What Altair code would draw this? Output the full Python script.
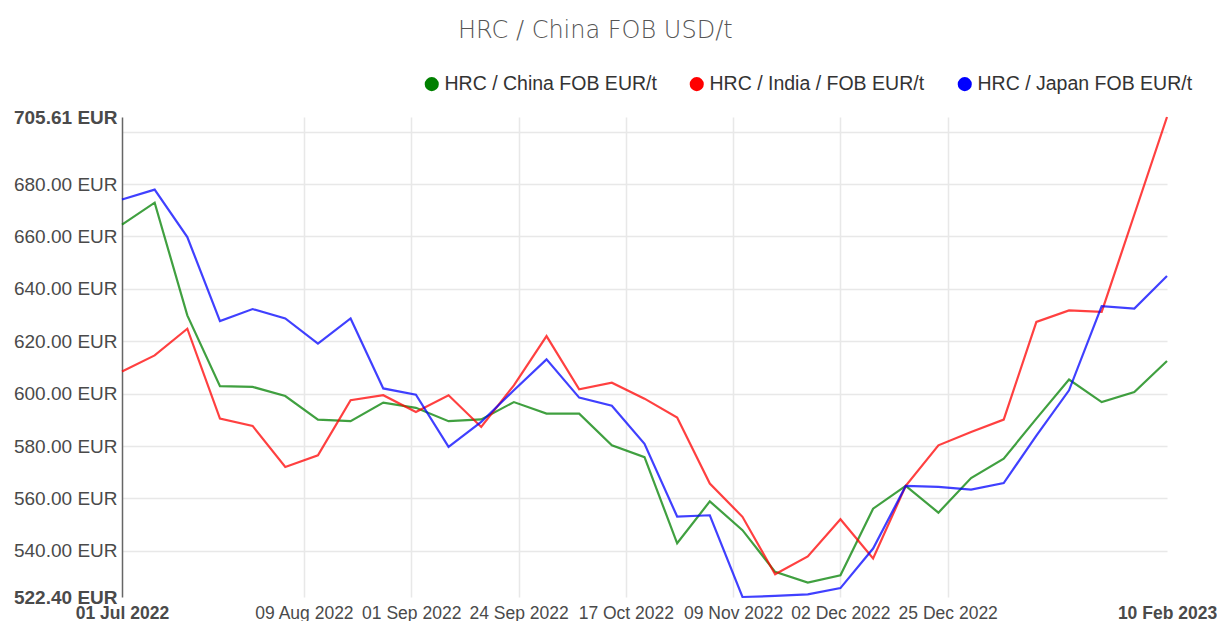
import altair as alt
import pandas as pd
from datetime import datetime, timezone

dates = pd.date_range("2022-07-01", "2023-02-10", freq="7D").strftime("%Y-%m-%d").tolist()

series_names = ["HRC / China FOB EUR/t", "HRC / India / FOB EUR/t", "HRC / Japan FOB EUR/t"]
series_colors = ["#008000", "#ff0000", "#0000ff"]

china = [664.5, 672.9, 629.9, 602.9, 602.6, 599.1, 590.1, 589.5, 596.6, 594.6,
         589.5, 590.2, 596.8, 592.4, 592.4, 580.3, 575.8, 542.9, 558.9, 547.9,
         532.0, 527.9, 530.7, 556.1, 564.8, 554.6, 567.8, 575.2, 590.5, 605.4,
         596.8, 600.6, 612.5]
india = [608.5, 614.6, 624.8, 590.5, 587.7, 572.0, 576.5, 597.5, 599.4, 593.0,
         599.4, 587.3, 603.2, 622.0, 601.7, 604.2, 598.1, 590.9, 565.7, 553.0,
         531.1, 537.9, 552.1, 537.1, 564.8, 580.3, 585.4, 590.1, 627.4, 631.8,
         631.2, 668.4, 705.61]
japan = [674.1, 677.9, 659.8, 627.7, 632.3, 628.7, 619.1, 628.7, 602.0, 599.6,
         579.7, 589.2, 601.3, 613.1, 598.5, 595.4, 580.9, 553.1, 553.6, 522.4,
         522.8, 523.4, 525.8, 540.9, 564.8, 564.4, 563.4, 565.9, 584.0, 601.3,
         633.4, 632.5, 644.9]

x_tick_dates = ["2022-07-01", "2022-08-09", "2022-09-01", "2022-09-24", "2022-10-17",
                "2022-11-09", "2022-12-02", "2022-12-25", "2023-02-10"]
y_ticks = [522.40, 540, 560, 580, 600, 620, 640, 660, 680, 700, 705.61]
y_min, y_max = 522.40, 705.61

rows = []
for name, vals in zip(series_names, [china, india, japan]):
    for d, v in zip(dates, vals):
        rows.append({"date": d, "value": v, "series": name})
df = pd.DataFrame(rows)

def to_ms(s):
    return int(datetime.strptime(s, "%Y-%m-%d").replace(tzinfo=timezone.utc).timestamp() * 1000)

x_vals = [to_ms(s) for s in x_tick_dates]
last_ms = x_vals[-1]
first_ms = x_vals[0]
edge_test = f"datum.value <= {first_ms} || datum.value >= {last_ms}"

# filled-looking disc built from concentric rings (legend symbols of line marks are stroked)
disc_path = " ".join(
    f"M {-r} 0 A {r} {r} 0 1 0 {r} 0 A {r} {r} 0 1 0 {-r} 0" for r in [0.9, 0.7, 0.5, 0.3, 0.1]
)

x_axis = alt.Axis(
    values=x_vals,
    labelExpr="utcFormat(datum.value, '%d %b %Y')",
    labelOverlap=False,
    labelFlush=False,
    labelFont="Liberation Sans",
    labelFontSize=17.5,
    labelColor="#4a4a4a",
    labelFontWeight={"condition": {"test": edge_test, "value": "bold"}, "value": "normal"},
    labelBaseline="alphabetic",
    labelPadding=21,
    ticks=False,
    domain=False,
    grid=True,
    gridColor="#e8e8e8",
    gridWidth=1.5,
    gridOpacity={"condition": {"test": edge_test, "value": 0}, "value": 1},
    title=None,
)

y_axis = alt.Axis(
    values=y_ticks,
    labelExpr="datum.value == 700 ? '' : format(datum.value, '.2f') + ' EUR'",
    labelOverlap=False,
    labelFlush=False,
    labelFont="Liberation Sans",
    labelFontSize=19,
    labelColor="#4a4a4a",
    labelFontWeight={"condition": {"test": "datum.value < 530 || datum.value > 702", "value": "bold"}, "value": "normal"},
    labelPadding=5,
    ticks=False,
    domain=True,
    domainColor="#666666",
    domainWidth=1.5,
    grid=True,
    gridColor="#e8e8e8",
    gridWidth=1.5,
    gridOpacity={"condition": {"test": "datum.value < 530 || datum.value > 702", "value": 0}, "value": 1},
    title=None,
)

chart = alt.Chart(df).mark_line(strokeWidth=2.2, opacity=0.75).encode(
    x=alt.X("date:T", scale=alt.Scale(type="utc", domain=[first_ms, last_ms]), axis=x_axis),
    y=alt.Y("value:Q", scale=alt.Scale(domain=[y_min, y_max], nice=False, zero=False), axis=y_axis),
    color=alt.Color(
        "series:N",
        scale=alt.Scale(domain=series_names, range=series_colors),
        legend=alt.Legend(
            orient="none",
            legendX=300,
            legendY=-43,
            direction="horizontal",
            title=None,
            symbolType=disc_path,
            symbolSize=196,
            symbolOpacity=1,
            labelFont="Liberation Sans",
            labelFontSize=19.5,
            labelColor="#333333",
            labelLimit=300,
            columnPadding=30,
            labelOffset=3,
        ),
    ),
).properties(
    width=1045,
    height=480,
    padding={"left": 114, "top": 109, "right": 50, "bottom": 24},
    autosize=alt.AutoSizeParams(type="none"),
    title=alt.TitleParams(
        "HRC / China FOB USD/t",
        anchor="start",
        frame="group",
        dx=336,
        offset=31,
        font="DejaVu Sans",
        fontSize=24,
        fontWeight=300,
        color="#555555",
    ),
).configure_view(stroke=None)

chart.save("out.html", embed_options={"renderer": "svg", "actions": False})
